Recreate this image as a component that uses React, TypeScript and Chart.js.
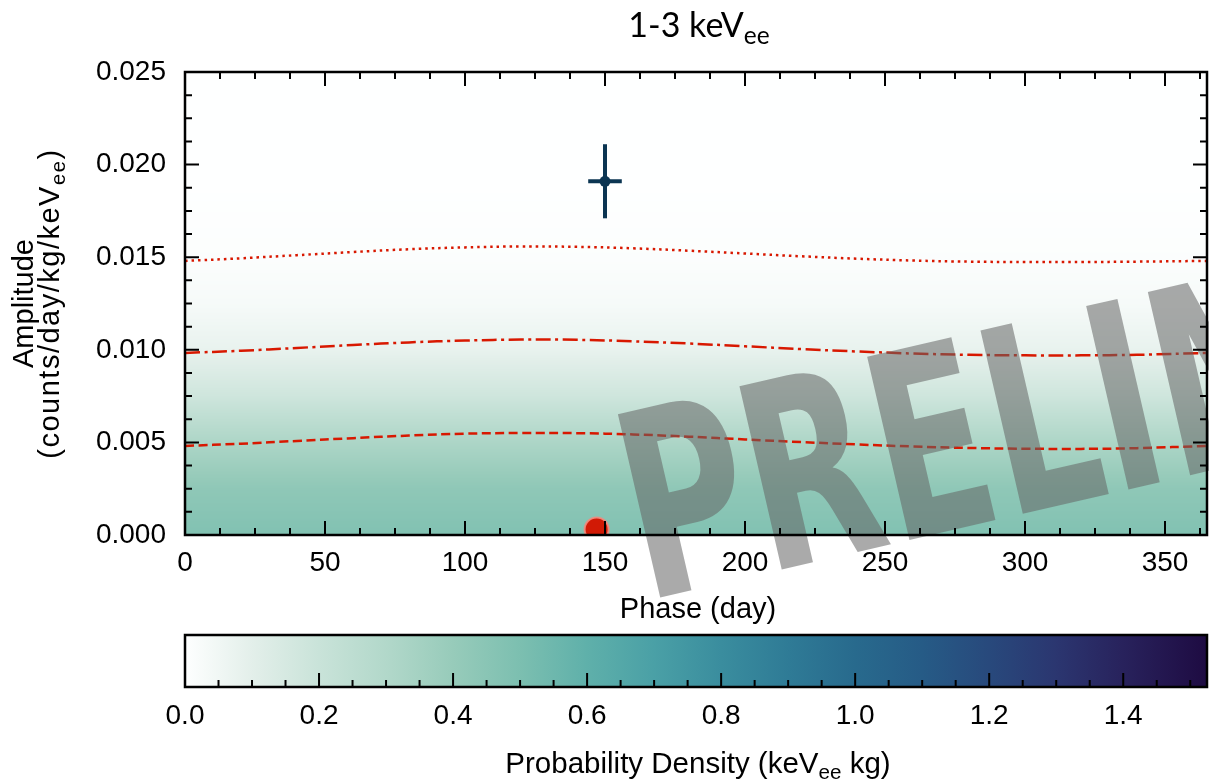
import React, { useEffect, useRef } from "react";
import { Chart, registerables } from "chart.js";

Chart.register(...registerables);

// ---------------- data ----------------
const PHASE_DAYS = [0, 20, 40, 60, 80, 100, 120, 140, 160, 180, 200, 220, 240, 260, 280, 300, 320, 340, 365];
const LIMIT_DOTTED = [0.0148, 0.01494, 0.01511, 0.01528, 0.01543, 0.01553, 0.01558, 0.01556, 0.01548, 0.01535, 0.0152, 0.01505, 0.01492, 0.01482, 0.01476, 0.01474, 0.01474, 0.01476, 0.0148];
const LIMIT_DASHDOT = [0.00983, 0.00995, 0.0101, 0.01026, 0.0104, 0.0105, 0.01055, 0.01054, 0.01046, 0.01034, 0.01019, 0.01004, 0.00991, 0.0098, 0.00973, 0.0097, 0.0097, 0.00973, 0.00983];
const LIMIT_DASHED = [0.00481, 0.00493, 0.00508, 0.00523, 0.00537, 0.00547, 0.00551, 0.0055, 0.00543, 0.00531, 0.00516, 0.00502, 0.00489, 0.00478, 0.0047, 0.00466, 0.00465, 0.00469, 0.00481];

const FIT_PHASE = 150;
const FIT_AMP = 0.0191;
const FIT_PHASE_ERR = 6;
const FIT_AMP_ERR = 0.002;

const MARKER_PHASE = 147;
const MARKER_AMP = 0.0003;

const X_TICKS = [0, 50, 100, 150, 200, 250, 300, 350];
const Y_TICKS = [0, 0.005, 0.01, 0.015, 0.02, 0.025];
const CB_TICKS = [0, 0.2, 0.4, 0.6, 0.8, 1.0, 1.2, 1.4];

// probability density vs amplitude (background)
const AMP_GRID = [0, 0.0025, 0.005, 0.0075, 0.01, 0.0125, 0.015, 0.0175, 0.02, 0.025];
const DENSITY = [0.48, 0.43, 0.32, 0.18, 0.08, 0.03, 0.01, 0.003, 0.0, 0];

// colormap
const CMAP_VALUES = [0, 0.1, 0.2, 0.3, 0.4, 0.5, 0.6, 0.7, 0.8, 0.9, 1.0, 1.1, 1.2, 1.3, 1.4, 1.525];
const CMAP_COLORS: number[][] = [
  [254, 255, 255], [227, 239, 234], [201, 227, 217], [178, 216, 202], [151, 203, 186],
  [124, 191, 176], [95, 176, 170], [74, 160, 166], [58, 141, 158], [47, 123, 150],
  [40, 106, 141], [38, 91, 134], [40, 73, 124], [43, 54, 112], [40, 34, 92], [30, 11, 66],
];
const CB_MAX = 1.525;

const FONT = '"Liberation Sans", Arial, Helvetica, sans-serif';
const TITLE_FONT = 'Lato, "Open Sans", sans-serif';
const RED = "#d81800";
const NAVY = "#0b3552";

// ---------------- helpers ----------------
function interp(xs: number[], ys: number[], x: number) {
  if (x <= xs[0]) return ys[0];
  for (let i = 1; i < xs.length; i++) {
    if (x <= xs[i]) {
      const t = (x - xs[i - 1]) / (xs[i] - xs[i - 1]);
      return ys[i - 1] + t * (ys[i] - ys[i - 1]);
    }
  }
  return ys[ys.length - 1];
}
function cmap(v: number) {
  const c = [0, 1, 2].map((k) => Math.round(interp(CMAP_VALUES, CMAP_COLORS.map((col) => col[k]), v)));
  return `rgb(${c[0]},${c[1]},${c[2]})`;
}
type Part = { t: string; sub?: boolean };
function drawRich(ctx: CanvasRenderingContext2D, parts: Part[], cx: number, y: number, size: number, family: string, subScale = 0.7, spacing = 0) {
  const subSize = size * subScale;
  (ctx as any).letterSpacing = `${spacing}px`;
  let total = 0;
  const widths = parts.map((p) => {
    ctx.font = `${p.sub ? subSize : size}px ${family}`;
    const w = ctx.measureText(p.t).width;
    total += w;
    return w;
  });
  let x = cx - total / 2;
  ctx.textAlign = "left";
  ctx.textBaseline = "alphabetic";
  parts.forEach((p, i) => {
    ctx.font = `${p.sub ? subSize : size}px ${family}`;
    ctx.fillText(p.t, x, p.sub ? y + size * 0.22 : y);
    x += widths[i];
  });
  (ctx as any).letterSpacing = "0px";
}

const pts = (ys: number[]) => PHASE_DAYS.map((x, i) => ({ x, y: ys[i] }));

// ---------------- plugins ----------------
const backgroundPlugin = {
  id: "densityBg",
  beforeDatasetsDraw(chart: any) {
    const { ctx, chartArea } = chart;
    const ys = chart.scales.y;
    ctx.save();
    for (let py = Math.floor(chartArea.top); py < chartArea.bottom; py++) {
      const amp = ys.getValueForPixel(py + 0.5);
      ctx.fillStyle = cmap(interp(AMP_GRID, DENSITY, amp));
      ctx.fillRect(chartArea.left, py, chartArea.right - chartArea.left, 1);
    }
    ctx.restore();
  },
  afterDatasetsDraw(chart: any) {
    const ctx = chart.ctx as CanvasRenderingContext2D;
    ctx.save();
    ctx.translate(645, 601);
    ctx.rotate((-13 * Math.PI) / 180);
    ctx.scale(0.88, 1.2);
    ctx.font = `bold 215px "Liberation Sans Narrow", "DejaVu Sans Condensed", "Liberation Sans", sans-serif`;
    ctx.fillStyle = "rgba(100,100,100,0.55)";
    ctx.textAlign = "left";
    ctx.textBaseline = "alphabetic";
    ctx.fillText("PRELIMINARY", 0, 0);
    ctx.restore();
  },
};

const framePlugin = {
  id: "frame",
  afterDraw(chart: any) {
    const ctx = chart.ctx as CanvasRenderingContext2D;
    const { left, right, top, bottom } = chart.chartArea;
    const xs = chart.scales.x;
    const ys = chart.scales.y;
    ctx.save();
    ctx.strokeStyle = "#000";
    ctx.lineWidth = 2;
    ctx.beginPath();
    for (let i = 0; i * 12.5 <= 365; i++) {
      const v = i * 12.5;
      const px = xs.getPixelForValue(v);
      const len = i % 4 === 0 ? 14 : 7;
      ctx.moveTo(px, bottom);
      ctx.lineTo(px, bottom - len);
      ctx.moveTo(px, top);
      ctx.lineTo(px, top + len);
    }
    for (let i = 0; i <= 20; i++) {
      const v = i * 0.00125;
      const py = ys.getPixelForValue(v);
      const len = i % 4 === 0 ? 14 : 7;
      ctx.moveTo(left, py);
      ctx.lineTo(left + len, py);
      ctx.moveTo(right, py);
      ctx.lineTo(right - len, py);
    }
    ctx.stroke();
    ctx.lineWidth = 2.5;
    ctx.strokeRect(left, top, right - left, bottom - top);

    // titles
    ctx.fillStyle = "#000";
    const cx = (left + right) / 2;
    drawRich(ctx, [{ t: "1-3 keV" }, { t: "ee", sub: true }], cx + 3, 37, 34, TITLE_FONT, 0.72);
    drawRich(ctx, [{ t: "Phase (day)" }], cx + 2, 618, 29, FONT);
    ctx.save();
    ctx.translate(33, (top + bottom) / 2);
    ctx.rotate(-Math.PI / 2);
    drawRich(ctx, [{ t: "Amplitude" }], 0, 0, 29, FONT);
    ctx.restore();
    ctx.save();
    ctx.translate(59, (top + bottom) / 2);
    ctx.rotate(-Math.PI / 2);
    drawRich(ctx, [{ t: "(counts/day/kg/keV" }, { t: "ee", sub: true }, { t: ")" }], 0, 0, 29, FONT, 0.7, 1.5);
    ctx.restore();
    ctx.restore();
  },
};

const colorbarPlugin = {
  id: "colorbar",
  beforeDatasetsDraw(chart: any) {
    const ctx = chart.ctx as CanvasRenderingContext2D;
    const { left, right, top, bottom } = chart.chartArea;
    const xs = chart.scales.x;
    const g = ctx.createLinearGradient(left, 0, right, 0);
    CMAP_VALUES.forEach((v) => {
      const p = (xs.getPixelForValue(v) - left) / (right - left);
      g.addColorStop(Math.max(0, Math.min(1, p)), cmap(v));
    });
    ctx.save();
    ctx.fillStyle = g;
    ctx.fillRect(left, top, right - left, bottom - top);
    ctx.restore();
  },
  afterDraw(chart: any) {
    const ctx = chart.ctx as CanvasRenderingContext2D;
    const { left, right, top, bottom } = chart.chartArea;
    const xs = chart.scales.x;
    ctx.save();
    ctx.strokeStyle = "#000";
    ctx.lineWidth = 2;
    ctx.beginPath();
    for (let i = 0; i * 0.05 <= CB_MAX + 1e-9; i++) {
      const px = xs.getPixelForValue(i * 0.05);
      const len = i % 4 === 0 ? 14 : 7;
      ctx.moveTo(px, bottom);
      ctx.lineTo(px, bottom - len);
    }
    ctx.stroke();
    ctx.lineWidth = 2.5;
    ctx.strokeRect(left, top, right - left, bottom - top);
    ctx.fillStyle = "#000";
    drawRich(ctx, [{ t: "Probability Density (keV" }, { t: "ee", sub: true }, { t: " kg)" }], (left + right) / 2 + 2, 143, 29.5, FONT);
    ctx.restore();
  },
};

// ---------------- component ----------------
export default function App() {
  const mainRef = useRef<HTMLCanvasElement>(null);
  const cbRef = useRef<HTMLCanvasElement>(null);

  useEffect(() => {
    const main = new Chart(mainRef.current!, {
      type: "scatter",
      data: {
        datasets: [
          { data: pts(LIMIT_DOTTED), showLine: true, borderColor: RED, borderWidth: 2.5, borderDash: [2.5, 4], pointRadius: 0, tension: 0.4, fill: false },
          { data: pts(LIMIT_DASHDOT), showLine: true, borderColor: RED, borderWidth: 2.5, borderDash: [15, 4.5, 3, 4.5], pointRadius: 0, tension: 0.4, fill: false },
          { data: pts(LIMIT_DASHED), showLine: true, borderColor: RED, borderWidth: 2.5, borderDash: [9, 4.5], pointRadius: 0, tension: 0.4, fill: false },
          {
            data: [{ x: FIT_PHASE, y: FIT_AMP - FIT_AMP_ERR }, { x: FIT_PHASE, y: FIT_AMP + FIT_AMP_ERR }],
            showLine: true, borderColor: NAVY, borderWidth: 4, pointRadius: 0, borderCapStyle: "butt",
          },
          {
            data: [{ x: FIT_PHASE - FIT_PHASE_ERR, y: FIT_AMP }, { x: FIT_PHASE + FIT_PHASE_ERR, y: FIT_AMP }],
            showLine: true, borderColor: NAVY, borderWidth: 4, pointRadius: 0, borderCapStyle: "butt",
          },
          { data: [{ x: FIT_PHASE, y: FIT_AMP }], pointRadius: 5.5, backgroundColor: NAVY, borderColor: NAVY, borderWidth: 0 },
          {
            data: [{ x: MARKER_PHASE, y: MARKER_AMP }], pointRadius: 12, backgroundColor: "#d11a05",
            borderColor: "rgba(242,140,128,0.9)", borderWidth: 2, clip: 0,
          },
        ] as any,
      },
      options: {
        animation: false,
        responsive: false,
        maintainAspectRatio: false,
        events: [],
        layout: { autoPadding: false, padding: { left: 0, top: 72, right: 2, bottom: 0 } },
        plugins: { legend: { display: false }, tooltip: { enabled: false }, title: { display: false } },
        scales: {
          x: {
            type: "linear", min: 0, max: 365, z: 1,
            grid: { display: false, drawTicks: false }, border: { display: false },
            ticks: { color: "#000", font: { family: FONT, size: 28 }, padding: 11, maxRotation: 0, callback: (v: any) => String(v) },
            afterBuildTicks: (s: any) => { s.ticks = X_TICKS.map((value) => ({ value })); },
            afterFit: (s: any) => { s.height = 95; s.paddingLeft = 0; s.paddingRight = 0; },
          },
          y: {
            type: "linear", min: 0, max: 0.025, z: 1,
            grid: { display: false, drawTicks: false }, border: { display: false },
            ticks: { color: "#000", font: { family: FONT, size: 28 }, padding: 19, callback: (v: any) => Number(v).toFixed(3) },
            afterBuildTicks: (s: any) => { s.ticks = Y_TICKS.map((value) => ({ value })); },
            afterFit: (s: any) => { s.width = 185; s.paddingTop = 0; s.paddingBottom = 0; },
          },
        },
      } as any,
      plugins: [backgroundPlugin, framePlugin],
    });

    const cb = new Chart(cbRef.current!, {
      type: "scatter",
      data: { datasets: [{ data: [] }] },
      options: {
        animation: false,
        responsive: false,
        maintainAspectRatio: false,
        events: [],
        layout: { autoPadding: false, padding: { left: 185, top: 5, right: 2, bottom: 0 } },
        plugins: { legend: { display: false }, tooltip: { enabled: false } },
        scales: {
          x: {
            type: "linear", min: 0, max: CB_MAX, z: 1,
            grid: { display: false, drawTicks: false }, border: { display: false },
            ticks: { color: "#000", font: { family: FONT, size: 28 }, padding: 12, maxRotation: 0, callback: (v: any) => Number(v).toFixed(1) },
            afterBuildTicks: (s: any) => { s.ticks = CB_TICKS.map((value) => ({ value })); },
            afterFit: (s: any) => { s.height = 94; s.paddingLeft = 0; s.paddingRight = 0; },
          },
          y: { display: false, min: 0, max: 1 },
        },
      } as any,
      plugins: [colorbarPlugin],
    });

    return () => {
      main.destroy();
      cb.destroy();
    };
  }, []);

  return (
    <div style={{ position: "fixed", left: 0, top: 0, width: 1209, height: 781, background: "#fff" }}>
      <canvas ref={mainRef} width={1209} height={630} style={{ position: "absolute", left: 0, top: 0, width: 1209, height: 630 }} />
      <canvas ref={cbRef} width={1209} height={151} style={{ position: "absolute", left: 0, top: 630, width: 1209, height: 151 }} />
    </div>
  );
}
